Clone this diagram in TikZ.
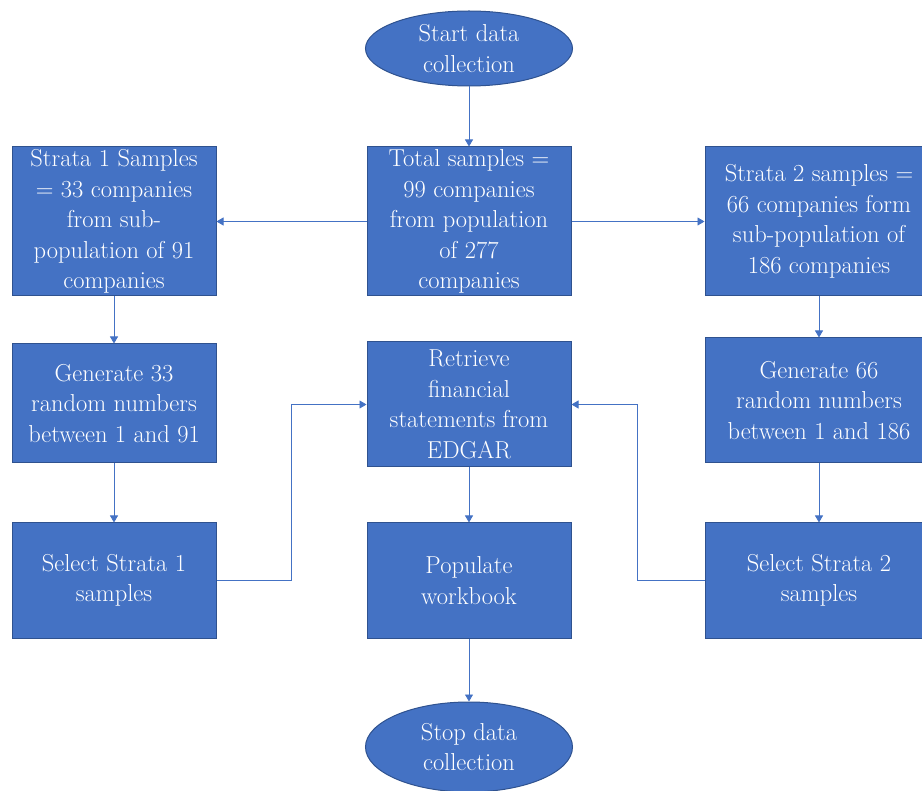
\documentclass[tikz,border=0pt]{standalone}
\usepackage{fontspec}
\usetikzlibrary{shapes.geometric,arrows.meta}
\definecolor{officeblue}{RGB}{68,114,196}
\definecolor{edgeblue}{RGB}{47,82,143}
\tikzset{
	procbox/.style={rectangle, draw=edgeblue, line width=1pt, fill=officeblue, text=white, align=center, inner sep=0pt, font=\fontsize{24.5}{30.5}\selectfont},
	termnode/.style={ellipse, draw=edgeblue, line width=1pt, fill=officeblue, text=white, align=center, inner sep=0pt, font=\fontsize{24.5}{30.5}\selectfont},
	flowarrow/.style={draw=officeblue, line width=0.8pt, -{Triangle[width=8pt,length=7pt]}}
}
\begin{document}
\begin{tikzpicture}[x=1pt, y=-1pt]
	\useasboundingbox (0,0) rectangle (922,791);
	% Start and stop
	\node[termnode, minimum width=207, minimum height=75] at (469,48.5) (start) {Start data\\collection};
	\node[termnode, minimum width=207, minimum height=90] at (469,747) (stop) {Stop data\\collection};
	% Top row
	\node[procbox, minimum width=204, minimum height=149] at (114,221.5) (strataone) {Strata 1 Samples\\= 33 companies\\from sub-\\population of 91\\companies};
	\node[procbox, minimum width=204, minimum height=149] at (469,221.5) (total) {Total samples =\\99 companies\\from population\\of 277\\companies};
	\node[procbox, minimum width=228, minimum height=149] at (819,221.5) (stratatwo) {Strata 2 samples =\\66 companies form\\sub-population of\\186 companies};
	% Middle row
	\node[procbox, minimum width=204, minimum height=119] at (114,403.5) (genone) {Generate 33\\random numbers\\between 1 and 91};
	\node[procbox, minimum width=204, minimum height=125] at (469,404.5) (retrieve) {Retrieve\\financial\\statements from\\EDGAR};
	\node[procbox, minimum width=228, minimum height=125] at (819,400.5) (gentwo) {Generate 66\\random numbers\\between 1 and 186};
	% Bottom row
	\node[procbox, minimum width=204, minimum height=115] at (114,580.5) (selone) {Select Strata 1\\samples};
	\node[procbox, minimum width=204, minimum height=115] at (469,580.5) (populate) {Populate\\workbook};
	\node[procbox, minimum width=228, minimum height=115] at (819,580.5) (seltwo) {Select Strata 2\\samples};
	% Arrows
	\draw[flowarrow] (start) -- (total);
	\draw[flowarrow] (total) -- (strataone);
	\draw[flowarrow] (total) -- (stratatwo);
	\draw[flowarrow] (strataone) -- (genone);
	\draw[flowarrow] (genone) -- (selone);
	\draw[flowarrow] (stratatwo) -- (gentwo);
	\draw[flowarrow] (gentwo) -- (seltwo);
	\draw[flowarrow] (selone.east) -- ++(75,0) |- (retrieve.west);
	\draw[flowarrow] (seltwo.west) -- ++(-67,0) |- (retrieve.east);
	\draw[flowarrow] (retrieve) -- (populate);
	\draw[flowarrow] (populate) -- (stop);
\end{tikzpicture}
\end{document}
